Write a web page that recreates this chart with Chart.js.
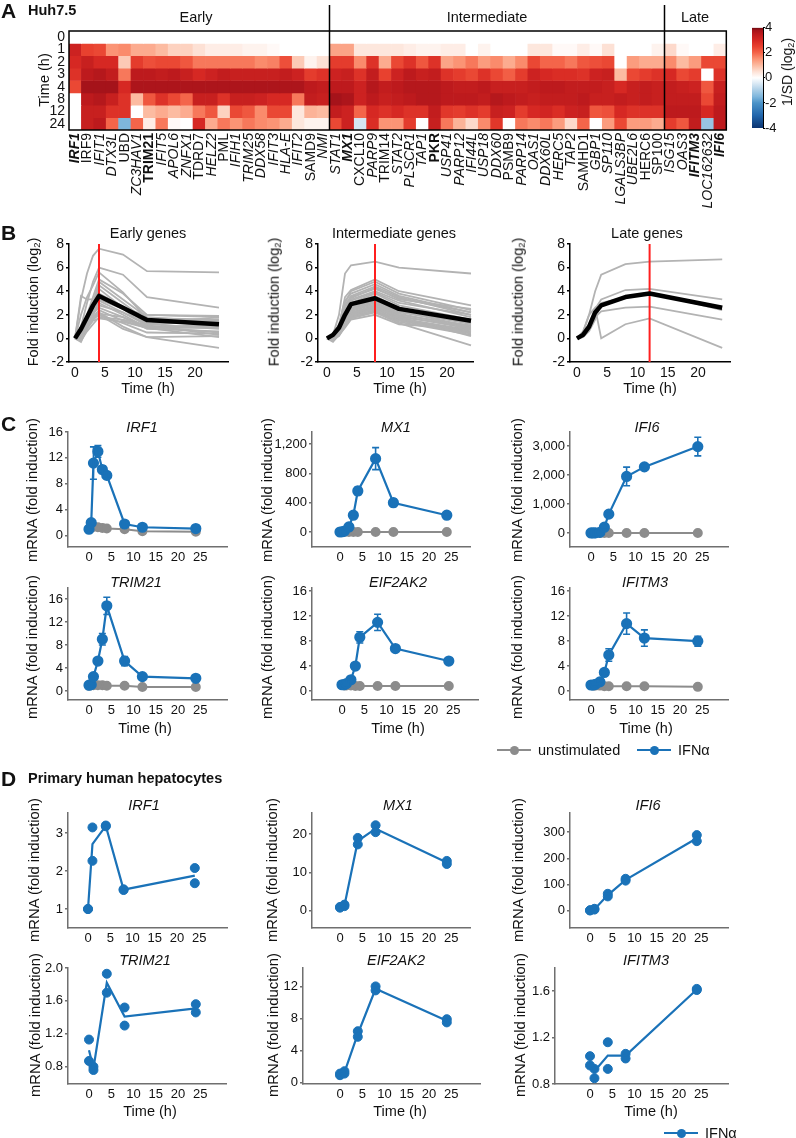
<!DOCTYPE html>
<html>
<head>
<meta charset="utf-8">
<script src="https://cdn.jsdelivr.net/npm/chart.js@4.4.1/dist/chart.umd.min.js"></script>
<style>
body { margin: 0; background: #fff; }
#page { position: relative; width: 796px; height: 1138px; overflow: hidden; font-family: "Liberation Sans", Arial, sans-serif; color: #111; }
canvas { position: absolute; }
.lbl { position: absolute; white-space: nowrap; line-height: 1; }
.lbl sub { font-size: 65%; vertical-align: -0.25em; line-height: 0; }
</style>
</head>
<body>
<div id="page"></div>
<script>
// ---------- data ----------
const earlyGenes = ['IRF1','IRF9','IFIT1','DTX3L','UBD','ZC3HAV1','TRIM21','IFIT5','APOL6','ZNFX1','TDRD7','HELZ2','PML','IFIH1','TRIM25','DDX58','IFIT3','HLA-E','IFIT2','SAMD9','NMI'];
const interGenes = ['STAT1','MX1','CXCL10','PARP9','TRIM14','STAT2','PLSCR1','TAP1','PKR','USP41','PARP12','IFI44L','USP18','DDX60','PSMB9','PARP14','OAS1','DDX60L','HERC5','TAP2','SAMHD1','GBP1','SP110','LGALS3BP','UBE2L6','HERC6','SP100'];
const lateGenes = ['ISG15','OAS3','IFITM3','LOC162632','IFI6'];
const boldGenes = ['IRF1','TRIM21','MX1','PKR','IFITM3','IFI6'];
const uprightGenes = ['IRF9','UBD','TRIM21','TDRD7','PML','SAMD9','CXCL10','TRIM14','PKR','PSMB9','SAMHD1','HERC6','SP100'];
const timeRows = ['0','1','2','3','4','8','12','24'];
const barTicks = [-4, -2, 0, 2, 4];

// 1/SD (log2), one array per time point, genes in order early | intermediate | late
const heatH0 = [0,0,0,0,0,0,0,0,0,0,0,0,0,0,0,0,0,0,0,0,0,
  0,0,0,0,0,0,0,0,0,0,0,0,0,0,0,0,0,0,0,0,0,0,0,0,0,0,0, 0,0,0,0,0];
const heatH1 = [3.2,2.5,2.4,1.5,1.6,1.2,1.2,1.0,0.7,0.7,0.5,0.3,0.3,0.3,0.2,0.2,0.1,0,0,0,0,
  1.3,1.3,0.4,0.4,0.4,0.4,0.3,0.2,0.2,0.3,0.3,0,0.2,0,0,0,0.4,0.4,0.1,0.1,0.3,0.1,0.5,0,0,0,0.2, 0.6,0.1,0,0,0.3];
const heatH2 = [3.0,3.3,3.0,3.0,0.8,2.6,2.3,2.4,2.4,2.2,1.8,1.8,1.8,1.8,1.8,1.6,1.7,2.3,0.8,0.2,0.5,
  2.6,2.6,1.6,2.8,1.2,2.4,2.8,2.2,2.8,1.3,1.5,1.8,1.4,1.6,1.2,1.6,2.4,2.0,2.0,1.8,2.2,2.3,2.4,0,1.4,1.2,1.2, 1.6,1.0,1.4,2.4,2.4];
const heatH3 = [2.8,3.5,3.6,3.4,1.8,3.5,3.5,3.4,3.5,3.3,3.0,3.2,3.4,3.3,3.3,3.3,3.3,3.4,3.2,2.6,2.8,
  3.2,3.3,2.8,3.4,2.5,3.2,3.5,3.3,3.4,2.8,2.6,2.4,2.8,2.4,2.1,2.6,3.2,3.0,2.9,2.9,2.8,3.2,3.3,1.0,2.4,2.6,2.8, 3.0,2.4,2.6,0,2.8];
const heatH4 = [2.4,3.8,3.8,3.8,3.0,3.7,3.7,3.7,3.7,3.7,3.7,3.7,3.7,3.7,3.7,3.7,3.7,3.7,3.7,3.5,3.4,
  3.5,3.5,3.2,3.6,3.4,3.5,3.6,3.6,3.6,3.5,3.4,3.4,3.5,3.3,3.3,3.3,3.4,3.5,3.5,3.4,3.4,3.4,3.3,3.0,3.3,3.4,3.3, 3.4,3.3,3.2,2.2,3.3];
const heatH8 = [0,3.5,3.6,3.3,2.8,1.0,2.2,2.8,2.4,2.0,3.3,3.3,2.8,3.3,3.3,3.2,3.0,3.0,1.8,3.4,3.3,
  3.8,3.7,3.2,3.5,3.3,3.4,3.5,3.6,3.6,3.5,3.5,3.5,3.4,3.6,3.5,3.4,3.3,3.4,3.4,3.4,3.5,3.3,3.3,3.4,3.3,3.4,3.3, 3.4,3.4,3.4,2.4,3.4];
const heatH12 = [0,3.3,3.3,2.8,2.8,0,1.0,1.2,1.0,1.2,1.8,2.2,0.7,2.4,2.2,1.6,2.4,2.4,0.4,1.1,1.0,
  3.4,3.2,2.0,3.0,2.8,3.0,2.8,2.8,3.4,2.7,2.6,2.8,2.6,3.3,3.2,2.6,3.0,3.1,2.9,3.2,3.3,2.2,2.3,3.0,2.8,2.8,2.8, 3.5,3.5,3.5,3.0,3.5];
const heatH24 = [0,3.3,3.5,2.0,-1.5,2.0,0.3,1.8,0.1,0,3.0,1.2,1.8,1.5,1.8,1.6,1.5,1.2,0.4,0.2,0.2,
  2.4,3.2,-0.5,2.9,1.5,1.5,2.6,0,3.3,1.8,1.1,0.6,1.6,2.7,0,1.8,1.6,1.8,1.4,0.6,2.0,0,1.4,2.4,1.4,1.4,1.2, 2.6,2.2,3.4,-1.2,3.5];

// B: fold induction (log2) per gene
const timesB = [0, 1, 2, 3, 4, 8, 12, 24];
const bTicksX = [0, 5, 10, 15, 20];
const bTicksY = [-2, 0, 2, 4, 6, 8];
const bYRange = [-2, 8];
const earlyLines = [
  [0,3.3,5.5,7.0,7.6,7.1,5.7,5.6], [0,1.0,3.0,4.8,6.0,5.4,3.5,2.6], [0,3.6,3.3,3.3,3.3,2.5,2.0,1.9],
  [0,2.0,3.5,4.5,5.6,3.9,1.7,1.6], [0,0.5,2.0,3.5,5.0,3.8,2.0,1.8], [0,0.3,1.5,3.0,4.8,3.3,1.8,1.4],
  [0,-0.2,1.2,2.8,4.5,3.0,1.5,1.3], [0,0.2,1.8,3.0,4.2,2.6,1.3,1.5], [0,0.5,1.6,2.6,3.8,2.7,1.2,0.8],
  [0,0.1,1.0,2.2,3.5,2.5,1.0,0.5], [0,-0.3,0.8,2.0,3.2,2.2,1.1,0.3], [0,0.4,1.5,2.4,3.0,2.0,0.9,0.9],
  [0,0.2,1.2,2.0,2.8,2.2,1.2,1.8], [0,0.6,1.4,2.2,2.6,1.8,0.8,0.6], [0,0.0,1.0,1.8,2.4,1.5,0.9,0.1],
  [0,-0.1,0.9,1.6,2.2,1.0,0.1,-0.8], [0,0.3,1.2,1.8,2.0,0.8,0.1,0.2], [0,0.5,1.4,1.9,2.1,1.8,1.0,1.0],
  [0,0.1,0.8,1.5,1.7,1.4,0.9,1.2], [0,-0.2,0.6,1.2,1.8,1.6,1.1,1.6], [0,0.2,1.0,1.6,2.0,1.3,0.5,0.4]
];
const earlyMean = [0, 0.8, 1.8, 2.8, 3.6, 2.6, 1.55, 1.2];
const interLines = [
  [0,0.3,2.0,5.5,6.2,6.5,6.0,5.5], [0,0.2,1.0,3.5,4.1,5.0,4.0,2.8], [0,0.1,0.8,3.0,4.0,4.8,3.8,2.4],
  [0,0.3,1.2,3.2,3.8,4.6,3.6,2.2], [0,0.0,0.6,2.8,3.6,4.4,3.5,2.0], [0,0.2,1.0,2.6,3.5,4.2,3.4,2.2],
  [0,-0.1,0.5,2.4,3.3,4.0,3.2,1.8], [0,0.1,0.8,2.2,3.2,3.9,3.0,2.0], [0,0.2,0.7,2.0,3.0,3.8,2.8,1.6],
  [0,0.0,0.6,2.2,3.0,3.6,2.6,1.4], [0,-0.2,0.4,1.8,2.8,3.5,2.5,1.5], [0,0.1,0.9,2.0,2.8,3.4,2.4,1.2],
  [0,0.2,0.8,1.8,2.6,3.3,2.3,1.0], [0,0.0,0.5,1.6,2.6,3.2,2.2,1.3], [0,0.1,0.6,1.8,2.5,3.1,2.1,0.9],
  [0,-0.1,0.4,1.5,2.4,3.0,2.0,1.1], [0,0.2,0.7,1.6,2.3,2.9,1.9,0.8], [0,0.0,0.5,1.4,2.2,2.8,1.8,1.0],
  [0,0.1,0.4,1.2,2.1,2.7,1.7,0.7], [0,-0.2,0.3,1.2,2.0,2.6,1.7,0.6], [0,0.0,0.5,1.3,2.0,2.5,1.6,0.5],
  [0,0.1,0.3,1.0,1.9,2.4,1.5,0.4], [0,-0.1,0.2,1.0,1.8,2.3,1.4,0.3], [0,0.0,0.4,1.1,1.7,2.2,1.3,-0.6],
  [0,0.1,0.6,1.5,2.2,2.6,1.8,0.2], [0,0.2,0.9,2.4,3.4,4.3,3.3,2.5], [0,-0.3,0.3,0.9,1.6,2.0,1.2,0.8]
];
const interMean = [0, 0.3, 0.9, 2.0, 2.9, 3.4, 2.5, 1.5];
const lateLines = [
  [0,0.5,2.0,4.0,5.4,6.3,6.5,6.7], [0,0.3,1.2,2.5,3.3,4.1,4.2,3.3], [0,0.2,0.8,1.8,2.3,2.6,2.7,1.6],
  [0,0.6,2.0,2.6,0.0,1.2,1.7,-0.8], [0,0.1,0.6,1.6,3.0,3.5,3.9,2.4]
];
const lateMean = [0, 0.3, 1.0, 2.2, 2.8, 3.5, 3.8, 2.6];
const peakTimes = [4, 8, 12];

// C: Huh7.5 mRNA fold induction, mean and error
const timesC = [0, 0.5, 1, 2, 3, 4, 8, 12, 24];
const cTicksX = [0, 5, 10, 15, 20, 25];
const irf1Ifn = [1, 2, 11.2, 13, 10.2, 9.3, 1.8, 1.3, 1.1];
const irf1Err = [0, 0, 2.5, 0.9, 0.6, 0.5, 0.2, 0.1, 0.1];
const irf1Uns = [1, 1.2, 1.4, 1.3, 1.2, 1.1, 1.0, 0.7, 0.6];
const mx1Ifn = [1, 5, 15, 70, 230, 560, 1000, 400, 230];
const mx1Err = [0, 0, 0, 10, 20, 50, 150, 50, 20];
const mx1Uns = [1, 1, 1, 1, 1, 1, 1, 1, 1];
const ifi6Ifn = [1, 2, 5, 20, 200, 650, 1950, 2280, 2980];
const ifi6Err = [0, 0, 0, 0, 30, 40, 320, 60, 320];
const ifi6Uns = [1, 1, 1, 1, 1, 1, 1, 1, 1];
const trim21Ifn = [1, 1.1, 2.5, 5.2, 9, 14.8, 5.2, 2.5, 2.2];
const trim21Err = [0, 0, 0.3, 0.5, 1, 1.5, 0.8, 0.2, 0.2];
const trim21Uns = [0.9, 1, 1, 1, 1, 0.9, 0.9, 0.7, 0.7];
const eif2ak2Ifn = [1, 1, 1.2, 1.8, 4, 8.6, 11, 6.8, 4.8];
const eif2ak2Err = [0, 0, 0.1, 0.3, 0.5, 0.9, 1.3, 0.2, 0.2];
const eif2ak2Uns = [1, 0.9, 0.9, 0.9, 0.8, 0.8, 0.8, 0.8, 0.8];
const ifitm3Ifn = [1, 1, 1.1, 1.5, 3, 5.8, 10.8, 8.5, 8];
const ifitm3Err = [0, 0, 0.1, 0.2, 0.5, 1, 1.7, 1.3, 0.8];
const ifitm3Uns = [1, 0.9, 0.9, 0.9, 0.8, 0.8, 0.8, 0.8, 0.7];

// D: primary human hepatocytes, two replicates and mean line
const timesD = [0, 1, 4, 8, 24];
const irf1DRep1 = [1.0, 3.15, 3.2, 1.5, 2.08];
const irf1DRep2 = [1.0, 2.27, 3.18, 1.52, 1.68];
const irf1DLine = [1.0, 2.71, 3.19, 1.51, 1.88];
const mx1DRep1 = [0.8, 1.2, 19, 22.3, 13.0];
const mx1DRep2 = [1.0, 1.6, 17.3, 20.5, 12.2];
const mx1DLine = [0.9, 1.4, 18.2, 21.4, 12.6];
const ifi6DRep1 = [2, 5, 65, 122, 288];
const ifi6DRep2 = [2, 8, 55, 115, 265];
const ifi6DLine = [2, 6, 60, 118, 276];
const trim21DRep1 = [1.13, 0.80, 1.93, 1.52, 1.56];
const trim21DRep2 = [0.87, 0.76, 1.70, 1.30, 1.46];
const trim21DLine = [1.0, 0.78, 1.82, 1.41, 1.51];
const eif2ak2DRep1 = [1.1, 1.4, 6.4, 12.0, 7.9];
const eif2ak2DRep2 = [0.9, 1.1, 5.7, 11.5, 7.5];
const eif2ak2DLine = [1.0, 1.25, 6.05, 11.7, 7.7];
const ifitm3DRep1 = [1.04, 0.93, 1.16, 1.06, 1.62];
const ifitm3DRep2 = [0.96, 0.85, 0.93, 1.02, 1.61];
const ifitm3DLine = [1.0, 0.91, 1.045, 1.045, 1.615];

// ---------- helpers ----------
const BLUE = '#1a72b8';
const GRAY = '#8c8c8c';
const page = document.getElementById('page');

Chart.defaults.font.family = '"Liberation Sans", Arial, sans-serif';
Chart.defaults.font.size = 14;
Chart.defaults.color = '#111';
Chart.defaults.animation = false;
Chart.defaults.responsive = false;
Chart.defaults.locale = 'en-US';
Chart.defaults.plugins.legend.display = false;
Chart.defaults.plugins.tooltip.enabled = false;

function label(html, x, y, o = {}) {
  const d = document.createElement('div');
  d.className = 'lbl';
  d.innerHTML = html;
  d.style.left = x + 'px';
  d.style.top = y + 'px';
  d.style.fontSize = (o.size || 14.5) + 'px';
  if (o.bold) d.style.fontWeight = 'bold';
  if (o.italic) d.style.fontStyle = 'italic';
  const ax = o.left ? '0' : '-50%';
  d.style.transform = 'translate(' + ax + ', -50%)' + (o.rot ? ' rotate(-90deg)' : '');
  page.appendChild(d);
}

function makeCanvas(x, y, w, h) {
  const c = document.createElement('canvas');
  c.width = w; c.height = h;
  c.style.left = x + 'px'; c.style.top = y + 'px';
  c.style.width = w + 'px'; c.style.height = h + 'px';
  page.appendChild(c);
  return c.getContext('2d');
}

const pts = (ts, vs) => ts.map((t, i) => ({ x: t, y: vs[i] }));
const setTicks = list => s => { s.ticks = list.map(v => ({ value: v })); };

const heatStops = [[-4,'#0b3370'],[-3,'#2166ac'],[-2,'#4b93c8'],[-1.5,'#7eb6dc'],[-1,'#a9cde6'],[-0.5,'#d5e6f3'],
  [0,'#ffffff'],[0.5,'#fde1d5'],[1,'#fcbba1'],[1.5,'#fb9475'],[2,'#f4654a'],[2.5,'#e8412f'],[3,'#d62823'],
  [3.5,'#bd1a1d'],[3.8,'#a5131a'],[4,'#6d0a10']];

function hexRgb(h) { return [1, 3, 5].map(i => parseInt(h.substr(i, 2), 16)); }
function heatColor(v) {
  v = Math.max(-4, Math.min(4, v));
  for (let i = 1; i < heatStops.length; i++) {
    const [v1, c1] = heatStops[i];
    if (v <= v1) {
      const [v0, c0] = heatStops[i - 1];
      const f = (v - v0) / (v1 - v0);
      const a = hexRgb(c0), b = hexRgb(c1);
      return 'rgb(' + a.map((x, k) => Math.round(x + (b[k] - x) * f)).join(',') + ')';
    }
  }
  return heatStops[heatStops.length - 1][1];
}

// error bars, drawn through the chart's own scales
Chart.register({
  id: 'errorBars',
  afterDatasetsDraw(chart) {
    const { ctx, scales: { x, y } } = chart;
    chart.data.datasets.forEach(ds => {
      if (!ds.errors) return;
      ctx.save();
      ctx.strokeStyle = ds.borderColor;
      ctx.lineWidth = 1.6;
      ds.data.forEach((p, i) => {
        const e = ds.errors[i];
        if (!e) return;
        const px = x.getPixelForValue(p.x);
        const top = y.getPixelForValue(p.y + e), bot = y.getPixelForValue(p.y - e);
        ctx.beginPath();
        ctx.moveTo(px, top); ctx.lineTo(px, bot);
        ctx.moveTo(px - 3.5, top); ctx.lineTo(px + 3.5, top);
        ctx.moveTo(px - 3.5, bot); ctx.lineTo(px + 3.5, bot);
        ctx.stroke();
      });
      ctx.restore();
    });
  }
});

// g: {left, right, zero, top, bottom, pxh}
function xyChart(g, pad, datasets, yr, yTicks, xTicks, axisColor, fontSize) {
  const pxh = g.pxh || 4.45;
  const fs = fontSize || 13;
  const ctx = makeCanvas(g.left - pad.l, g.top - pad.t, g.right - g.left + pad.l + pad.r, g.bottom - g.top + pad.t + pad.b);
  const border = { display: true, color: axisColor, width: 1.5 };
  return new Chart(ctx, {
    type: 'scatter',
    data: { datasets },
    options: {
      layout: { padding: { top: pad.t, right: pad.r, left: 0, bottom: 0 } },
      scales: {
        x: {
          type: 'linear', min: -(g.zero - g.left) / pxh, max: (g.right - g.zero) / pxh,
          border,
          grid: { display: true, drawOnChartArea: false, drawTicks: false, color: axisColor },
          ticks: { padding: 3, font: { size: fs }, maxRotation: 0 },
          afterBuildTicks: setTicks(xTicks),
          afterFit: s => { s.height = pad.b; }
        },
        y: {
          min: yr[0], max: yr[1],
          border,
          grid: { display: true, drawOnChartArea: false, drawTicks: true, tickLength: 3, color: axisColor, lineWidth: 1.5 },
          ticks: { padding: 2, font: { size: fs } },
          afterBuildTicks: setTicks(yTicks),
          afterFit: s => { s.width = pad.l; }
        }
      }
    }
  });
}

// ---------- A: heatmap ----------
const allGenes = earlyGenes.concat(interGenes, lateGenes);
const groupSizes = [earlyGenes.length, interGenes.length, lateGenes.length];
const heatRows = [heatH0, heatH1, heatH2, heatH3, heatH4, heatH8, heatH12, heatH24];

const heatCtx = makeCanvas(0, 0, 740, 218);
new Chart(heatCtx, {
  type: 'bar',
  data: {
    labels: allGenes,
    datasets: heatRows.map((row, r) => ({
      data: row.map(() => [r, r + 1]),
      backgroundColor: row.map(heatColor),
      borderWidth: 0,
      barPercentage: 1,
      categoryPercentage: 1,
      grouped: false
    }))
  },
  options: {
    layout: { padding: { top: 31, right: 10, left: 0, bottom: 0 } },
    scales: {
      x: {
        grid: { display: false, drawTicks: false },
        border: { display: false },
        ticks: {
          autoSkip: false, minRotation: 90, maxRotation: 90, padding: 3, color: '#111',
          font: c => ({
            size: 14,
            style: uprightGenes.includes(allGenes[c.index]) ? 'normal' : 'italic',
            weight: boldGenes.includes(allGenes[c.index]) ? 'bold' : 'normal'
          })
        },
        afterFit: s => { s.height = 88; }
      },
      y: {
        min: 0, max: timeRows.length, reverse: true,
        grid: { display: false, drawTicks: false },
        border: { display: false },
        ticks: { autoSkip: false, padding: 4, font: { size: 14 }, callback: (v, i) => timeRows[i] },
        afterBuildTicks: s => { s.ticks = timeRows.map((t, i) => ({ value: i + 0.5 })); },
        afterFit: s => { s.width = 69; }
      }
    }
  },
  plugins: [{
    id: 'heatFrame',
    afterDraw(chart) {
      const { ctx, chartArea: a, scales: { x } } = chart;
      ctx.save();
      ctx.strokeStyle = '#000';
      ctx.lineWidth = 1.5;
      ctx.strokeRect(a.left, a.top, a.right - a.left, a.bottom - a.top);
      let n = 0;
      groupSizes.slice(0, -1).forEach(sz => {
        n += sz;
        const px = Math.round((x.getPixelForValue(n - 1) + x.getPixelForValue(n)) / 2) + 0.5;
        ctx.beginPath();
        ctx.moveTo(px, a.top - 26);
        ctx.lineTo(px, a.bottom);
        ctx.stroke();
      });
      ctx.restore();
    }
  }]
});

// colour bar
const cbCtx = makeCanvas(752, 20, 36, 116);
new Chart(cbCtx, {
  type: 'bar',
  data: {
    labels: [''],
    datasets: [{
      data: [[barTicks[0], barTicks[barTicks.length - 1]]],
      barPercentage: 1, categoryPercentage: 1, borderWidth: 0,
      backgroundColor: c => {
        const a = c.chart.chartArea;
        if (!a) return '#fff';
        const y = c.chart.scales.y;
        const grd = c.chart.ctx.createLinearGradient(0, y.getPixelForValue(-4), 0, y.getPixelForValue(4));
        heatStops.forEach(([v, col]) => grd.addColorStop((v + 4) / 8, col));
        return grd;
      }
    }]
  },
  options: {
    layout: { padding: { top: 7, bottom: 8, left: 0, right: 0 } },
    scales: {
      x: { display: false },
      y: {
        position: 'right', min: -4, max: 4,
        border: { display: true, color: '#000', width: 1 },
        grid: { display: true, drawOnChartArea: false, tickLength: 2, color: '#000' },
        ticks: { padding: 0, font: { size: 13 } },
        afterBuildTicks: setTicks(barTicks),
        afterFit: s => { s.width = 25; }
      }
    }
  }
});

label('A', 1, 10, { left: true, bold: true, size: 21 });
label('Huh7.5', 28, 10, { left: true, bold: true, size: 14.5 });
label('Early', 196, 17, { size: 14.5 });
label('Intermediate', 487, 17, { size: 14.5 });
label('Late', 695, 17, { size: 14.5 });
label('Time (h)', 44, 80, { rot: true, size: 14.5 });
label('1/SD (log<sub>2</sub>)', 787, 72, { rot: true, size: 14 });

// ---------- B ----------
function bDatasets(lines, mean, peak) {
  const ds = lines.map(v => ({ data: pts(timesB, v), showLine: true, borderColor: '#b3b3b3', borderWidth: 1.8, pointRadius: 0, order: 3 }));
  ds.push({ data: [{ x: peak, y: bYRange[0] }, { x: peak, y: bYRange[1] }], showLine: true, borderColor: '#ff1f1f', borderWidth: 2, pointRadius: 0, order: 2 });
  ds.push({ data: pts(timesB, mean), showLine: true, borderColor: '#000', borderWidth: 4.5, pointRadius: 0, order: 1, borderJoinStyle: 'round' });
  return ds;
}
const padB = { l: 40, t: 12, r: 8, b: 22 };
xyChart({ left: 69, right: 228, zero: 75, top: 244, bottom: 362, pxh: 6 }, padB, bDatasets(earlyLines, earlyMean, peakTimes[0]), bYRange, bTicksY, bTicksX, '#000', 14);
xyChart({ left: 318, right: 473, zero: 327, top: 244, bottom: 362, pxh: 6 }, padB, bDatasets(interLines, interMean, peakTimes[1]), bYRange, bTicksY, bTicksX, '#000', 14);
xyChart({ left: 570, right: 730, zero: 577, top: 244, bottom: 362, pxh: 6.05 }, padB, bDatasets(lateLines, lateMean, peakTimes[2]), bYRange, bTicksY, bTicksX, '#000', 14);

label('B', 1, 232, { left: true, bold: true, size: 21 });
label('Early genes', 148, 233);
label('Intermediate genes', 394, 233);
label('Late genes', 647, 233);
[33, 274, 518].forEach(x => label('Fold induction (log<sub>2</sub>)', x, 302, { rot: true, size: 14.5 }));
[148, 400, 650].forEach(x => label('Time (h)', x, 388));

// ---------- C ----------
function cDatasets(ifn, err, uns) {
  return [
    { data: pts(timesC, ifn), errors: err, showLine: true, borderColor: BLUE, backgroundColor: BLUE, borderWidth: 2.2, pointRadius: 4.5, order: 1 },
    { data: pts(timesC, uns), showLine: true, borderColor: GRAY, backgroundColor: GRAY, borderWidth: 2, pointRadius: 4, order: 2 }
  ];
}
const padC = { l: 46, t: 12, r: 8, b: 26 };
const AX = '#6f6f6f';
xyChart({ left: 68, right: 227, zero: 89, top: 432, bottom: 547 }, padC, cDatasets(irf1Ifn, irf1Err, irf1Uns), [-1.75, 16], [0, 4, 8, 12, 16], cTicksX, AX);
xyChart({ left: 312, right: 470, zero: 340, top: 432, bottom: 547 }, padC, cDatasets(mx1Ifn, mx1Err, mx1Uns), [-203, 1363], [0, 400, 800, 1200], cTicksX, AX);
xyChart({ left: 570, right: 728, zero: 591, top: 432, bottom: 547 }, padC, cDatasets(ifi6Ifn, ifi6Err, ifi6Uns), [-483, 3483], [0, 1000, 2000, 3000], cTicksX, AX);
xyChart({ left: 68, right: 227, zero: 89, top: 588, bottom: 700 }, padC, cDatasets(trim21Ifn, trim21Err, trim21Uns), [-1.57, 17.9], [0, 4, 8, 12, 16], cTicksX, AX);
xyChart({ left: 312, right: 478, zero: 342, top: 588, bottom: 700 }, padC, cDatasets(eif2ak2Ifn, eif2ak2Err, eif2ak2Uns), [-1.44, 16.5], [0, 4, 8, 12, 16], cTicksX, AX);
xyChart({ left: 570, right: 728, zero: 591, top: 588, bottom: 700 }, padC, cDatasets(ifitm3Ifn, ifitm3Err, ifitm3Uns), [-1.4, 16.5], [0, 4, 8, 12, 16], cTicksX, AX);

label('C', 1, 423, { left: true, bold: true, size: 21 });
label('IRF1', 142, 427, { italic: true });
label('MX1', 396, 427, { italic: true });
label('IFI6', 647, 427, { italic: true });
label('TRIM21', 136, 582, { italic: true });
label('EIF2AK2', 398, 582, { italic: true });
label('IFITM3', 645, 582, { italic: true });
[32, 267, 517].forEach(x => {
  label('mRNA (fold induction)', x, 490, { rot: true, size: 14.8 });
  label('mRNA (fold induction)', x, 647, { rot: true, size: 14.8 });
});
[145, 398, 646].forEach(x => label('Time (h)', x, 728));

function legendItem(x, y, color, text) {
  const line = document.createElement('div');
  line.style.cssText = 'position:absolute;left:' + x + 'px;top:' + (y - 1) + 'px;width:34px;height:2.2px;background:' + color;
  const dot = document.createElement('div');
  dot.style.cssText = 'position:absolute;left:' + (x + 12.5) + 'px;top:' + (y - 4.5) + 'px;width:9px;height:9px;border-radius:50%;background:' + color;
  page.appendChild(line); page.appendChild(dot);
  label(text, x + 41, y, { left: true, size: 14.5 });
}
legendItem(497, 750, GRAY, 'unstimulated');
legendItem(637, 750, BLUE, 'IFN&alpha;');

// ---------- D ----------
function dDatasets(r1, r2, line) {
  return [
    { data: pts(timesD, line), showLine: true, borderColor: BLUE, borderWidth: 2.2, pointRadius: 0 },
    { data: pts(timesD, r1).concat(pts(timesD, r2)), showLine: false, backgroundColor: BLUE, borderColor: BLUE, pointRadius: 4.5 }
  ];
}
const padD = { l: 46, t: 12, r: 8, b: 26 };
xyChart({ left: 68, right: 227, zero: 88, top: 813, bottom: 928 }, padD, dDatasets(irf1DRep1, irf1DRep2, irf1DLine), [0.5, 3.53], [1, 2, 3], cTicksX, AX);
xyChart({ left: 312, right: 470, zero: 340, top: 813, bottom: 928 }, padD, dDatasets(mx1DRep1, mx1DRep2, mx1DLine), [-4.5, 25.5], [0, 10, 20], cTicksX, AX);
xyChart({ left: 570, right: 728, zero: 590, top: 813, bottom: 928 }, padD, dDatasets(ifi6DRep1, ifi6DRep2, ifi6DLine), [-65, 372], [0, 100, 200, 300], cTicksX, AX);
xyChart({ left: 68, right: 226, zero: 89, top: 968, bottom: 1084 }, padD, dDatasets(trim21DRep1, trim21DRep2, trim21DLine), [0.59, 2.0], [0.8, 1.2, 1.6, 2.0], cTicksX, AX);
xyChart({ left: 303, right: 480, zero: 340, top: 968, bottom: 1084 }, padD, dDatasets(eif2ak2DRep1, eif2ak2DRep2, eif2ak2DLine), [-0.2, 14.3], [0, 4, 8, 12], cTicksX, AX);
xyChart({ left: 555, right: 728, zero: 590, top: 968, bottom: 1084 }, padD, dDatasets(ifitm3DRep1, ifitm3DRep2, ifitm3DLine), [0.8, 1.8], [0.8, 1.2, 1.6], cTicksX, AX);

label('D', 1, 778, { left: true, bold: true, size: 21 });
label('Primary human hepatocytes', 28, 778, { left: true, bold: true, size: 14.5 });
label('IRF1', 144, 805, { italic: true });
label('MX1', 398, 805, { italic: true });
label('IFI6', 648, 805, { italic: true });
label('TRIM21', 145, 960, { italic: true });
label('EIF2AK2', 396, 960, { italic: true });
label('IFITM3', 646, 960, { italic: true });
[34, 272, 518].forEach(x => label('mRNA (fold induction)', x, 870, { rot: true, size: 14.8 }));
[35, 273, 520].forEach(x => label('mRNA (fold induction)', x, 1025, { rot: true, size: 14.8 }));
[150, 400, 651].forEach(x => label('Time (h)', x, 1111));
legendItem(664, 1133, BLUE, 'IFN&alpha;');
</script>
</body>
</html>
